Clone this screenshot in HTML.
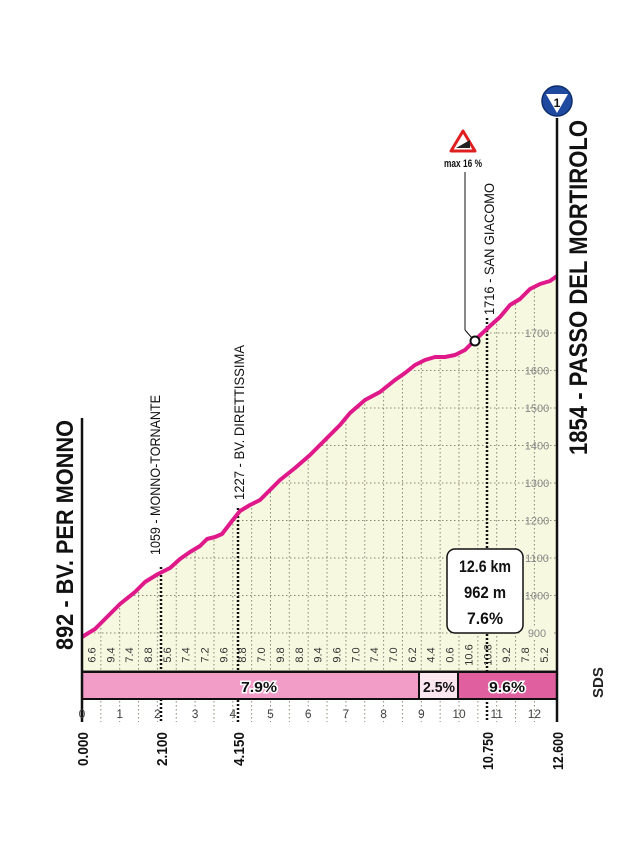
<!DOCTYPE html>
<html><head><meta charset="utf-8"><style>html,body{margin:0;padding:0;background:#fff}svg{display:block}</style></head>
<body>
<svg width="639" height="852" viewBox="0 0 639 852" xmlns="http://www.w3.org/2000/svg" font-family="Liberation Sans, sans-serif">
<defs>
<clipPath id="area"><polygon points="82,637 95,629 105,619 120,604 135,592 145,582 158,574 170,568 180,559 190,552 200,546 207,539 215,537 222,534 232,521 240,511 250,505 260,500 270,490 280,480 295,468 310,455 325,440 340,425 350,413 365,400 380,392 395,380 405,373 415,365 425,360 435,357 445,357 455,355 465,350 475,340 490,326 500,317 510,305 520,299 530,289 540,284 550,281 557,276 557,671 82,671"/></clipPath>
</defs>
<polygon clip-path="url(#area)" points="0,0 639,0 639,852 0,852" fill="#f7f8e0"/>
<g clip-path="url(#area)" stroke="#8a8a7a" stroke-width="1" stroke-dasharray="1.5,2.5">
<line x1="82" x2="557" y1="633" y2="633"/><line x1="82" x2="557" y1="595.5" y2="595.5"/><line x1="82" x2="557" y1="558" y2="558"/><line x1="82" x2="557" y1="520.5" y2="520.5"/><line x1="82" x2="557" y1="483" y2="483"/><line x1="82" x2="557" y1="445.5" y2="445.5"/><line x1="82" x2="557" y1="408" y2="408"/><line x1="82" x2="557" y1="370.5" y2="370.5"/><line x1="82" x2="557" y1="333" y2="333"/>
<g id="v"></g>
</g>
<g stroke="#8a8a7a" stroke-width="1" stroke-dasharray="1.5,2.5" id="vg"></g>
<script>
var g=document.getElementById('vg'),ns="http://www.w3.org/2000/svg";
for(var i=1;i<25;i++){var x=82+i*18.85;var l=document.createElementNS(ns,'line');l.setAttribute('x1',x);l.setAttribute('x2',x);l.setAttribute('y1',200);l.setAttribute('y2',671);l.setAttribute('clip-path','url(#area)');g.appendChild(l);
var l2=document.createElementNS(ns,'line');l2.setAttribute('x1',x);l2.setAttribute('x2',x);l2.setAttribute('y1',701);l2.setAttribute('y2',722);g.appendChild(l2);}
</script>
<line x1="82" y1="671" x2="557" y2="671" stroke="#222" stroke-width="1"/>
<!-- gradient numbers -->
<g font-size="11" fill="#333" text-anchor="middle" id="gn"></g>
<script>
var v=["6.6","9.4","7.4","8.8","5.6","7.4","7.2","9.6","8.8","7.0","9.8","8.8","9.4","9.6","7.0","7.4","7.0","6.2","4.4","0.6","10.6","10.8","9.2","7.8","5.2"];
var gn=document.getElementById('gn');
for(var i=0;i<25;i++){var x=82+(i+0.5)*18.85;var t=document.createElementNS(ns,'text');t.setAttribute('transform','translate('+(x+4)+',655) rotate(-90)');t.textContent=v[i];gn.appendChild(t);}
</script>
<!-- elevation labels -->
<g font-size="11" fill="#888" text-anchor="middle">
<rect x="522" y="626" width="30" height="13" fill="#f7f8e0"/>
<text x="537" y="637">900</text><text x="537" y="599.5">1000</text><text x="537" y="562">1100</text><text x="537" y="524.5">1200</text><text x="537" y="487">1300</text><text x="537" y="449.5">1400</text><text x="537" y="412">1500</text><text x="537" y="374.5">1600</text><text x="537" y="337">1700</text>
</g>
<!-- markers dotted -->
<g stroke="#111" stroke-width="2.5" stroke-dasharray="2,2">
<line x1="161" y1="567" x2="161" y2="722"/>
<line x1="238" y1="508" x2="238" y2="722"/>
<line x1="487" y1="318" x2="487" y2="722"/>
</g>
<!-- profile -->
<polyline fill="none" stroke="#e0198b" stroke-width="4" stroke-linejoin="round" points="82,637 95,629 105,619 120,604 135,592 145,582 158,574 170,568 180,559 190,552 200,546 207,539 215,537 222,534 232,521 240,511 250,505 260,500 270,490 280,480 295,468 310,455 325,440 340,425 350,413 365,400 380,392 395,380 405,373 415,365 425,360 435,357 445,357 455,355 465,350 475,340 490,326 500,317 510,305 520,299 530,289 540,284 550,281 557,276"/>
<!-- bars -->
<rect x="82" y="672" width="337" height="27" fill="#f19dc7"/>
<rect x="419" y="672" width="39" height="27" fill="#fbe6f0"/>
<rect x="458" y="672" width="99" height="27" fill="#e0609f"/>
<rect x="82" y="672" width="475" height="27" fill="none" stroke="#111" stroke-width="2"/>
<line x1="419" y1="672" x2="419" y2="699" stroke="#111" stroke-width="2"/>
<line x1="458" y1="672" x2="458" y2="699" stroke="#111" stroke-width="2"/>
<g font-size="15" font-weight="bold" text-anchor="middle" fill="#111" stroke="#fff" stroke-width="3" paint-order="stroke">
<text x="259" y="692" textLength="36" lengthAdjust="spacingAndGlyphs">7.9%</text>
<text x="439" y="692" textLength="32" lengthAdjust="spacingAndGlyphs" stroke="none">2.5%</text>
<text x="507" y="692" textLength="36" lengthAdjust="spacingAndGlyphs">9.6%</text>
</g>
<!-- axis lines -->
<line x1="82" y1="418" x2="82" y2="722" stroke="#111" stroke-width="2.5"/>
<line x1="557" y1="118" x2="557" y2="722" stroke="#111" stroke-width="2.5"/>
<!-- km ticks -->
<g font-size="12" fill="#444" text-anchor="middle">
<text x="82" y="718">0</text><text x="119.7" y="718">1</text><text x="157.4" y="718">2</text><text x="195.1" y="718">3</text><text x="232.8" y="718">4</text><text x="270.5" y="718">5</text><text x="308.2" y="718">6</text><text x="345.9" y="718">7</text><text x="383.6" y="718">8</text><text x="421.3" y="718">9</text><text x="459" y="718">10</text><text x="496.7" y="718">11</text><text x="534.4" y="718">12</text>
</g>
<g font-size="15" font-weight="bold" fill="#111" text-anchor="end">
<text transform="translate(88,732) rotate(-90)" textLength="34" lengthAdjust="spacingAndGlyphs">0.000</text>
<text transform="translate(167,732) rotate(-90)" textLength="34" lengthAdjust="spacingAndGlyphs">2.100</text>
<text transform="translate(244,732) rotate(-90)" textLength="34" lengthAdjust="spacingAndGlyphs">4.150</text>
<text transform="translate(493,732) rotate(-90)" textLength="38" lengthAdjust="spacingAndGlyphs">10.750</text>
<text transform="translate(563,732) rotate(-90)" textLength="38" lengthAdjust="spacingAndGlyphs">12.600</text>
</g>
<!-- titles -->
<g font-weight="bold" fill="#111" text-anchor="start">
<text transform="translate(73,650) rotate(-90)" font-size="24" textLength="230" lengthAdjust="spacingAndGlyphs">892 - BV. PER MONNO</text>
<text transform="translate(587,455) rotate(-90)" font-size="25" textLength="335" lengthAdjust="spacingAndGlyphs">1854 - PASSO DEL MORTIROLO</text>
</g>
<g font-size="14" fill="#111" text-anchor="start">
<text transform="translate(160,555) rotate(-90)" textLength="160" lengthAdjust="spacingAndGlyphs">1059 - MONNO-TORNANTE</text>
<text transform="translate(244,500) rotate(-90)" textLength="155" lengthAdjust="spacingAndGlyphs">1227 - BV. DIRETTISSIMA</text>
<text transform="translate(494,315) rotate(-90)" textLength="132" lengthAdjust="spacingAndGlyphs">1716 - SAN GIACOMO</text>
</g>
<!-- info box -->
<rect x="447" y="549" width="76" height="84" rx="8" fill="#fff" stroke="#111" stroke-width="1.5"/>
<g font-size="17" font-weight="bold" fill="#111" text-anchor="middle">
<text x="485" y="572" textLength="52" lengthAdjust="spacingAndGlyphs">12.6 km</text>
<text x="485" y="598" textLength="42" lengthAdjust="spacingAndGlyphs">962 m</text>
<text x="485" y="624" textLength="36" lengthAdjust="spacingAndGlyphs">7.6%</text>
</g>
<!-- max 16% -->
<line x1="465" y1="172" x2="465" y2="330" stroke="#111" stroke-width="1"/>
<line x1="465" y1="330" x2="472" y2="338" stroke="#111" stroke-width="1"/>
<circle cx="475" cy="341" r="4.5" fill="#fff" stroke="#111" stroke-width="2"/>
<polygon points="463,131 451,151 475,151" fill="#fff" stroke="#e02020" stroke-width="3" stroke-linejoin="round"/>
<polygon points="456,148 470,148 470,140" fill="#222"/>
<text x="463" y="167" font-size="11" font-weight="bold" fill="#111" text-anchor="middle" textLength="38" lengthAdjust="spacingAndGlyphs">max 16 %</text>
<!-- KOM icon -->
<circle cx="557" cy="101" r="15" fill="#1f4aa0" stroke="#0d2d6e" stroke-width="1.5"/>
<polygon points="546,94 568,94 557,113" fill="#fff"/>
<text x="557" y="107" font-size="12" font-weight="bold" fill="#111" text-anchor="middle">1</text>
<!-- SDS -->
<text transform="translate(603,698) rotate(-90)" font-size="15" font-weight="bold" fill="#222">SDS</text>
</svg>
</body></html>
